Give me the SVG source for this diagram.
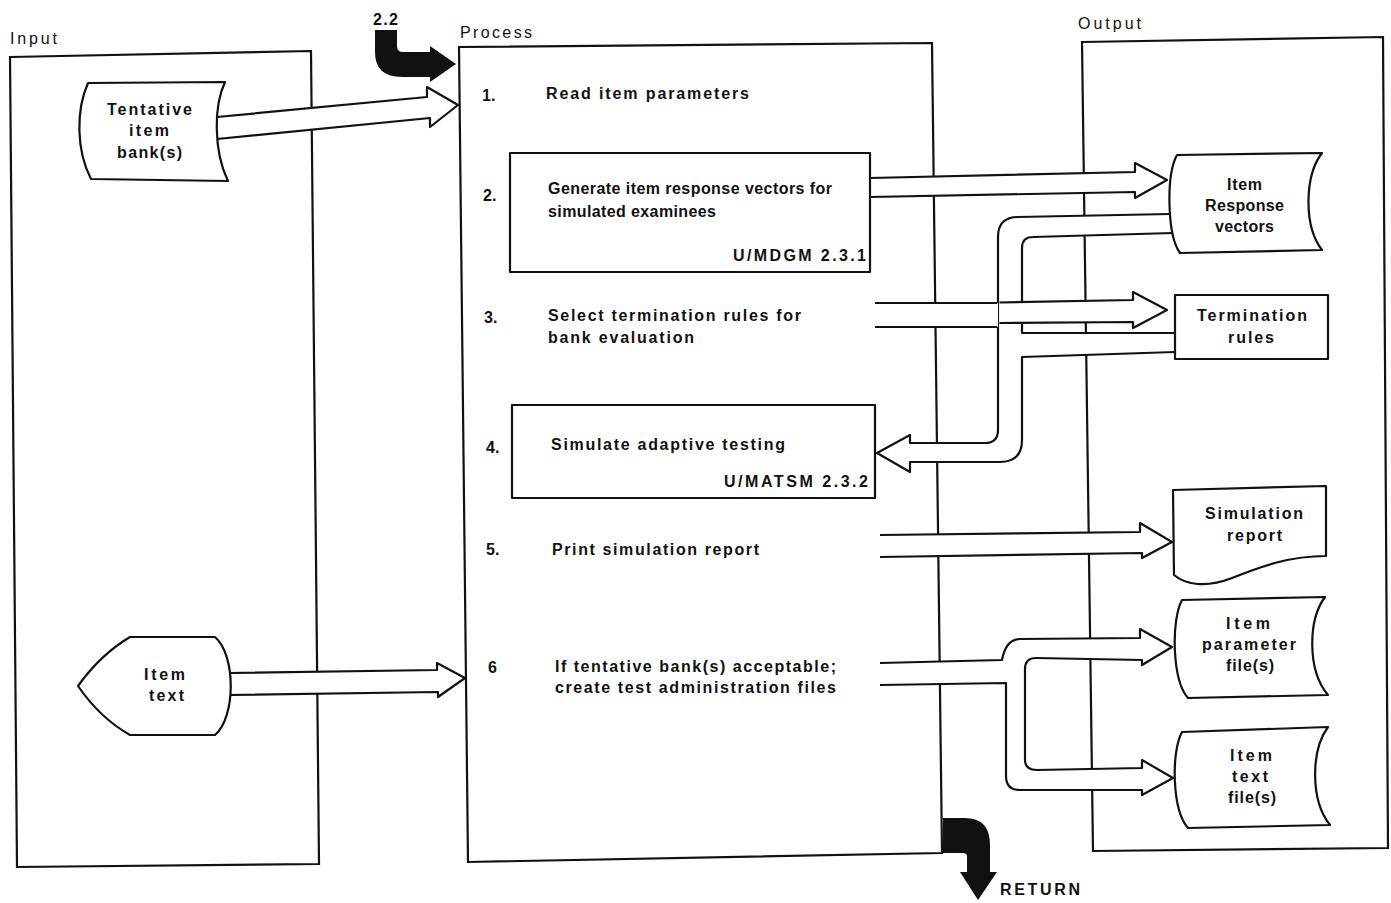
<svg xmlns="http://www.w3.org/2000/svg" width="1391" height="903" viewBox="0 0 1391 903">
<style>
.frame{fill:none;stroke:#111;stroke-width:2.2}
.node{fill:#fff;stroke:#111;stroke-width:2.2;stroke-linejoin:round}
.pipe{fill:#fff;stroke:#111;stroke-width:2.2;stroke-linejoin:round}
.fillw{fill:#fff;stroke:none}
.line{fill:none;stroke:#111;stroke-width:2.2;stroke-linejoin:round}
.blk{fill:#111;stroke:none}
text{font-family:"Liberation Sans",Arial,sans-serif;font-weight:bold;font-size:16px;fill:#111}
.hdr{font-size:16px;font-weight:normal}
</style>
<rect width="1391" height="903" fill="#fff"/>

<g id="input-panel">
  <polygon class="frame" points="10,57 311,51 319,864 17,867"/>
  <text class="hdr" x="10" y="44" textLength="47" lengthAdjust="spacing">Input</text>
</g>
<g id="process-panel">
  <polygon class="frame" points="459,47 932,43 942,853 468,862"/>
  <text class="hdr" x="460" y="38" textLength="72" lengthAdjust="spacing">Process</text>
</g>
<g id="output-panel">
  <polygon class="frame" points="1082,42 1383,37 1388,848 1093,851"/>
  <text class="hdr" x="1078" y="29" textLength="63" lengthAdjust="spacing">Output</text>
</g>

<g id="connectors">
  <!-- entry 2.2 -->
  <path class="blk" d="M375,30 L397,30 L397,46 Q397,52 403,52 L430,52 L430,46 L456,64 L430,82 L430,77 L402,77 Q375,77 375,52 Z"/>
  <text x="373" y="25" textLength="25" lengthAdjust="spacing">2.2</text>
  <!-- RETURN -->
  <path class="blk" d="M943,818 L965,818 Q990,818 990,845 L990,872 L997,872 L978,900 L960,872 L967,872 L967,856 Q967,853 962,853 L943,853 Z"/>
  <text x="1000" y="895" textLength="80" lengthAdjust="spacing">RETURN</text>
  <!-- Tentative bank -> step 1 -->
  <path class="pipe" d="M217,117 L427,97 L427,87 L458,105 L430,127 L430,118 L217,139"/>
  <!-- Item text -> step 6 -->
  <path class="pipe" d="M230,673 L437,670 L437,663 L465,678 L438,697 L438,692 L230,695"/>
  <!-- step 2 -> Item Response vectors -->
  <path class="pipe" d="M870,178 L1135,172 L1135,163 L1167,180 L1135,198 L1135,192 L870,197"/>
  <!-- IR vectors + termination rules -> step 4 -->
  <path class="fillw" d="M1170,214 L1018,217 Q998,217 998,237 L998,430 Q998,443 985,443 L910,443 L910,435 L877,453 L910,472 L910,462 L1000,462 Q1022,462 1022,440 L1022,357 L1175,352 L1175,333 L1022,333 L1022,248 Q1022,237 1033,237 L1173,233 Z"/>
  <path class="line" d="M1170,214 L1018,217 Q998,217 998,237 L998,430 Q998,443 985,443 L910,443 L910,435 L877,453 L910,472 L910,462 L1000,462 Q1022,462 1022,440 L1022,357 L1175,352 M1175,333 L1022,333 L1022,248 Q1022,237 1033,237 L1173,233"/>
  <!-- step 3 -> Termination rules -->
  <path class="fillw" d="M875,303 L998,303 L998,327 L875,327 Z"/>
  <path class="line" d="M875,303 L997,303 M875,327 L997,327"/>
  <path class="pipe" d="M999.5,302.5 L1133,300 L1133,292 L1167,310 L1133,328 L1133,322 L999.5,323"/>
  <!-- step 5 -> Simulation report -->
  <path class="pipe" d="M880,535 L1140,532 L1140,523 L1172,542 L1142,558 L1142,553 L880,557"/>
  <!-- step 6 -> parameter file(s) and text file(s) -->
  <path class="pipe" d="M880,663 L1002,660 Q1006,639 1020,639 L1140,638 L1140,629 L1172,647 L1142,665 L1142,660 L1036,658 Q1025,658 1025,669 L1025,760 Q1025,770 1037,770 L1142,768 L1142,760 L1173,778 L1142,795 L1142,790 L1020,790 Q1006,790 1006,776 L1006,683 L880,685"/>
</g>

<g id="tentative-item-banks">
  <path class="node" d="M88,83 L225,82 C214,105 213,150 228,181 L91,179 C76,150 76,110 88,83 Z"/>
  <text x="107" y="115" textLength="85" lengthAdjust="spacing">Tentative</text>
  <text x="129" y="136" textLength="40" lengthAdjust="spacing">item</text>
  <text x="117" y="158" textLength="65" lengthAdjust="spacing">bank(s)</text>
</g>
<g id="item-text">
  <path class="node" d="M130,637 L215,637 C236,655 236,717 215,735 L130,735 Q100,718 78,686 Q100,655 130,637 Z"/>
  <text x="144" y="680" textLength="41" lengthAdjust="spacing">Item</text>
  <text x="149" y="701" textLength="35" lengthAdjust="spacing">text</text>
</g>

<g id="step-1">
  <text x="482" y="101">1.</text>
  <text x="546" y="99" textLength="203" lengthAdjust="spacing">Read item parameters</text>
</g>
<g id="step-2">
  <rect class="node" x="510" y="153" width="360" height="119"/>
  <text x="483" y="201">2.</text>
  <text x="548" y="194" textLength="284" lengthAdjust="spacing">Generate item response vectors for</text>
  <text x="548" y="217" textLength="168" lengthAdjust="spacing">simulated examinees</text>
  <text x="733" y="261" textLength="133" lengthAdjust="spacing">U/MDGM 2.3.1</text>
</g>
<g id="step-3">
  <text x="484" y="323">3.</text>
  <text x="548" y="321" textLength="253" lengthAdjust="spacing">Select termination rules for</text>
  <text x="548" y="343" textLength="146" lengthAdjust="spacing">bank evaluation</text>
</g>
<g id="step-4">
  <rect class="node" x="512" y="405" width="363" height="93"/>
  <text x="486" y="453">4.</text>
  <text x="551" y="450" textLength="234" lengthAdjust="spacing">Simulate adaptive testing</text>
  <text x="724" y="487" textLength="144" lengthAdjust="spacing">U/MATSM 2.3.2</text>
</g>
<g id="step-5">
  <text x="486" y="555">5.</text>
  <text x="552" y="555" textLength="207" lengthAdjust="spacing">Print simulation report</text>
</g>
<g id="step-6">
  <text x="488" y="673">6</text>
  <text x="555" y="672" textLength="281" lengthAdjust="spacing">If tentative bank(s) acceptable;</text>
  <text x="555" y="693" textLength="281" lengthAdjust="spacing">create test administration files</text>
</g>

<g id="item-response-vectors">
  <path class="node" d="M1177,155 L1322,153 C1305,175 1303,225 1322,250 L1180,253 C1167,235 1166,175 1177,155 Z"/>
  <text x="1227" y="190" textLength="35" lengthAdjust="spacing">Item</text>
  <text x="1205" y="211" textLength="79" lengthAdjust="spacing">Response</text>
  <text x="1215" y="232" textLength="59" lengthAdjust="spacing">vectors</text>
</g>
<g id="termination-rules">
  <rect class="node" x="1175" y="295" width="153" height="64"/>
  <text x="1197" y="321" textLength="110" lengthAdjust="spacing">Termination</text>
  <text x="1228" y="343" textLength="46" lengthAdjust="spacing">rules</text>
</g>
<g id="simulation-report">
  <path class="node" d="M1173,490 L1326,486 L1326,556 C1290,556 1262,566 1232,578 C1206,588 1186,585 1174,575 Z"/>
  <text x="1205" y="519" textLength="98" lengthAdjust="spacing">Simulation</text>
  <text x="1227" y="541" textLength="55" lengthAdjust="spacing">report</text>
</g>
<g id="item-parameter-files">
  <path class="node" d="M1182,600 L1325,597 C1308,620 1307,670 1328,695 L1188,698 C1172,680 1171,620 1182,600 Z"/>
  <text x="1226" y="629" textLength="44" lengthAdjust="spacing">Item</text>
  <text x="1202" y="650" textLength="94" lengthAdjust="spacing">parameter</text>
  <text x="1226" y="671" textLength="48" lengthAdjust="spacing">file(s)</text>
</g>
<g id="item-text-files">
  <path class="node" d="M1182,732 L1328,727 C1311,750 1310,800 1330,825 L1188,828 C1172,810 1171,752 1182,732 Z"/>
  <text x="1230" y="761" textLength="42" lengthAdjust="spacing">Item</text>
  <text x="1232" y="782" textLength="36" lengthAdjust="spacing">text</text>
  <text x="1228" y="803" textLength="48" lengthAdjust="spacing">file(s)</text>
</g>
</svg>
